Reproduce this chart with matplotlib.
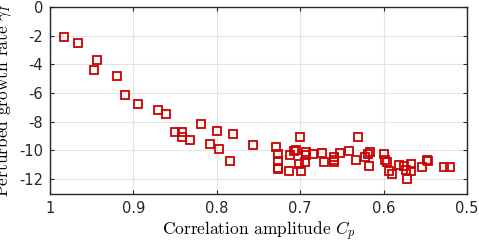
import numpy as np
import matplotlib
matplotlib.use('Agg')
from matplotlib import pyplot as plt
from matplotlib.ticker import FixedLocator, FixedFormatter

# correlation amplitude C_p and perturbed growth rate
corrAmp = [0.983, 0.966, 0.944, 0.947, 0.920, 0.910, 0.894, 0.870, 0.861,
           0.819, 0.850, 0.842, 0.842, 0.832, 0.800, 0.781, 0.808, 0.797,
           0.784, 0.757, 0.729, 0.727, 0.727, 0.727, 0.727, 0.713, 0.712,
           0.708, 0.705, 0.700, 0.702, 0.699, 0.693, 0.693, 0.694, 0.685,
           0.674, 0.672, 0.660, 0.660, 0.660, 0.652, 0.642, 0.633, 0.631,
           0.622, 0.619, 0.616, 0.617, 0.600, 0.598, 0.596, 0.593, 0.590,
           0.581, 0.575, 0.573, 0.572, 0.567, 0.567, 0.554, 0.548, 0.547,
           0.528, 0.520]
growthRate = [-2.09, -2.50, -3.68, -4.37, -4.85, -6.16, -6.78, -7.15, -7.48,
              -8.16, -8.71, -8.73, -9.03, -9.24, -8.67, -8.83, -9.54, -9.93,
              -10.76, -9.61, -9.78, -10.25, -10.71, -11.24, -11.32, -11.45, -10.30,
              -10.07, -10.00, -9.03, -10.94, -11.45, -10.11, -10.34, -10.83, -10.21,
              -10.18, -10.80, -10.46, -10.64, -10.83, -10.18, -10.02, -10.69, -9.03,
              -10.48, -10.25, -10.11, -11.06, -10.25, -10.69, -10.80, -11.45, -11.63,
              -11.03, -11.10, -11.38, -11.95, -10.94, -11.45, -11.14, -10.69, -10.76,
              -11.14, -11.14]

xTicks = [1, 0.9, 0.8, 0.7, 0.6, 0.5]
xTickLabels = ['1', '0.9', '0.8', '0.7', '0.6', '0.5']
yTicks = [0, -2, -4, -6, -8, -10, -12]
yTickLabels = ['0', '-2', '-4', '-6', '-8', '-10', '-12']

plt.rcParams['mathtext.fontset'] = 'cm'
plt.rcParams['axes.unicode_minus'] = False

fig = plt.figure(figsize=(4.79, 2.42), dpi=100)
ax = fig.add_axes([0.1044, 0.2, 0.975 - 0.1044, 0.972 - 0.2])

ax.plot(corrAmp, growthRate, linestyle='none', marker='s', markersize=6.4,
        markerfacecolor='none', markeredgecolor='#cc0000', markeredgewidth=1.3)

ax.set_xlim(1, 0.5)
ax.set_ylim(-13, 0)
ax.xaxis.set_major_locator(FixedLocator(xTicks))
ax.xaxis.set_major_formatter(FixedFormatter(xTickLabels))
ax.yaxis.set_major_locator(FixedLocator(yTicks))
ax.yaxis.set_major_formatter(FixedFormatter(yTickLabels))

ax.grid(True, color='#e3e3e3', linewidth=0.8)
ax.set_axisbelow(True)
ax.tick_params(direction='in', top=True, right=True, length=3, width=0.8,
               labelsize=10.5, colors='#262626', pad=5)
for side in ax.spines.values():
    side.set_linewidth(1.0)
    side.set_color('#262626')

ax.set_xlabel('Correlation amplitude $C_p$', fontfamily='cmr10', fontsize=12.5,
              labelpad=3)
ax.set_ylabel(r'Perturbed growth rate $\gamma_I$', fontfamily='cmr10',
              fontsize=12.5, labelpad=4)

fig.savefig('out.png', dpi=100)
